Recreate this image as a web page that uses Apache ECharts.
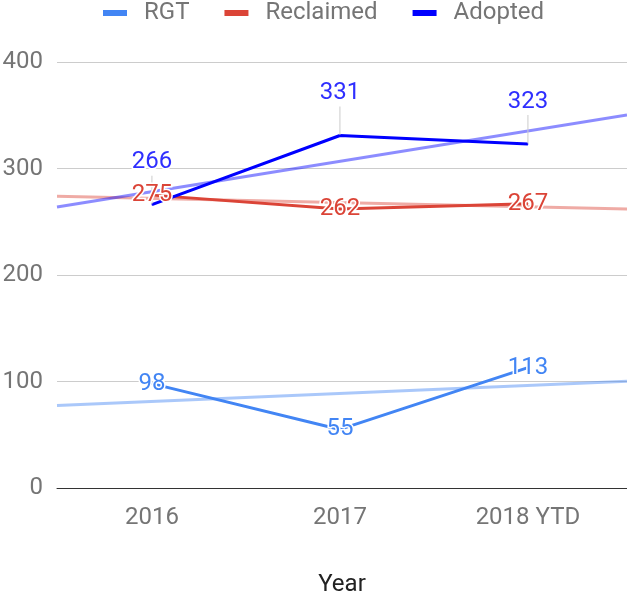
<!DOCTYPE html>
<html lang="en">
<head>
    <meta charset="UTF-8">
    <title>RGT / Reclaimed / Adopted</title>
    <script src="https://cdn.jsdelivr.net/npm/echarts@6/dist/echarts.min.js"></script>
    <style>
        html, body { margin: 0; padding: 0; background: #fff; }
        #main { width: 627px; height: 592px; }
    </style>
</head>
<body>
<div id="main"></div>
<script type="text/javascript">
    // data
    var years = ['2016', '2017', '2018 YTD'];
    var rgt = [98, 55, 113];
    var reclaimed = [275, 262, 267];
    var adopted = [266, 331, 323];
    var yTicks = [0, 100, 200, 300, 400];

    var colors = {RGT: '#4285f4', Reclaimed: '#db4437', Adopted: '#0000ff'};
    var xMin = -0.505, xMax = 2.527;

    // least squares line over the year index, spread across the whole plot
    function trend(vals) {
        var n = vals.length, sx = 0, sy = 0, sxy = 0, sxx = 0;
        vals.forEach(function (v, i) { sx += i; sy += v; sxy += i * v; sxx += i * i; });
        var b = (n * sxy - sx * sy) / (n * sxx - sx * sx);
        var a = (sy - b * sx) / n;
        return [[xMin, a + b * xMin], [xMax, a + b * xMax]];
    }

    function pts(vals) {
        return vals.map(function (v, i) { return [i, v]; });
    }

    function trendSeries(name, vals) {
        return {
            type: 'line',
            name: name + ' trend',
            data: trend(vals),
            showSymbol: false,
            silent: true,
            z: 1,
            lineStyle: {color: colors[name], width: 3, opacity: 0.45}
        };
    }

    var labelBase = {
        show: true,
        fontSize: 24,
        fontFamily: 'Roboto',
        textBorderColor: '#fff',
        textBorderWidth: 3
    };

    function dataSeries(name, vals, above) {
        var s = {
            type: 'line',
            name: name,
            data: pts(vals),
            symbol: 'circle',
            symbolSize: 1,
            z: 3,
            itemStyle: {color: colors[name]},
            lineStyle: {color: colors[name], width: 3},
            label: Object.assign({}, labelBase, {
                color: above ? '#2f2fff' : colors[name],
                position: above ? 'top' : 'inside',
                distance: 0,
                formatter: function (p) { return p.value[1]; }
            })
        };
        if (above) {
            s.labelLayout = {dy: -30};
            s.labelLine = {show: true, lineStyle: {color: '#cccccc', width: 1}};
        }
        return s;
    }

    var myChart = echarts.init(document.getElementById('main'));

    myChart.setOption({
        animation: false,
        textStyle: {fontFamily: 'Roboto'},
        legend: {
            data: ['RGT', 'Reclaimed', 'Adopted'],
            left: 98,
            top: -4,
            icon: 'rect',
            itemWidth: 24,
            itemHeight: 6,
            itemGap: 35,
            textStyle: {fontSize: 24, color: '#757575', padding: [0, 0, 0, 12]}
        },
        grid: {left: 57, right: 0, top: 62, bottom: 104, outerBoundsMode: 'none'},
        xAxis: {
            type: 'value',
            min: xMin,
            max: xMax,
            name: 'Year',
            nameLocation: 'middle',
            nameGap: 85,
            nameTextStyle: {fontSize: 24, color: '#222'},
            axisLine: {show: true, lineStyle: {color: '#333', width: 1}},
            axisTick: {show: false},
            splitLine: {show: false},
            axisLabel: {
                customValues: [0, 1, 2],
                fontSize: 24,
                color: '#757575',
                margin: 18,
                formatter: function (v) { return years[Math.round(v)]; }
            }
        },
        yAxis: {
            type: 'value',
            min: yTicks[0],
            max: yTicks[yTicks.length - 1],
            interval: 100,
            axisLine: {show: false},
            axisTick: {show: false},
            axisLabel: {fontSize: 24, color: '#757575', margin: 14},
            splitLine: {lineStyle: {color: '#cccccc', width: 1}}
        },
        series: [
            trendSeries('RGT', rgt),
            trendSeries('Reclaimed', reclaimed),
            trendSeries('Adopted', adopted),
            dataSeries('RGT', rgt, false),
            dataSeries('Reclaimed', reclaimed, false),
            dataSeries('Adopted', adopted, true)
        ]
    });
</script>
</body>
</html>
